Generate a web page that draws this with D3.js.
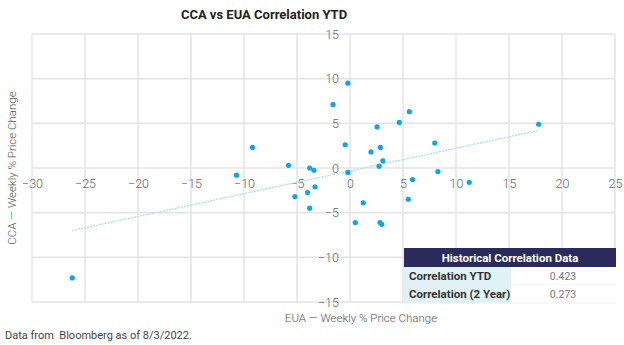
<!DOCTYPE html>
<html>
<head>
<meta charset="utf-8">
<script src="https://cdn.jsdelivr.net/npm/d3@7"></script>
<style>
  body { margin: 0; background: #fff; }
  svg text { font-family: Roboto, "DejaVu Sans", sans-serif; }
</style>
</head>
<body>
<div id="chart"></div>
<script>
/* DATA */
// EUA weekly % change (x) and CCA weekly % change (y)
const euaChange = [-26.2, -10.7, -9.2, -5.8, -5.2, -4.0, -3.8, -3.8, -3.4, -3.3,
  -1.6, -0.45, -0.2, -0.2, 0.5, 1.25, 1.98, 2.55, 2.74, 2.83, 2.86, 3.0, 3.1,
  4.65, 5.5, 5.6, 5.9, 8.0, 8.3, 11.25, 17.8];
const ccaChange = [-12.3, -0.8, 2.3, 0.3, -3.2, -2.75, 0.0, -4.5, -0.25, -2.1,
  7.1, 2.6, 9.5, -0.5, -6.1, -3.9, 1.8, 4.6, 0.2, -6.1, 2.3, -6.3, 0.8,
  5.1, -3.5, 6.3, -1.3, 2.8, -0.4, -1.6, 4.9];
// trend line ends
const trendX = [-26.2, 17.8];
const trendY = [-7.0, 4.2];

const xTicks = [-30, -25, -20, -15, -10, -5, 0, 5, 10, 15, 20, 25];
const yTicks = [-15, -10, -5, 0, 5, 10, 15];

const tableTitle = "Historical Correlation Data";
const tableLabels = ["Correlation YTD", "Correlation (2 Year)"];
const tableValues = ["0.423", "0.273"];

/* LAYOUT */
const width = 624, height = 345,
  margin = { top: 34, bottom: 43, left: 32, right: 9 };

const points = euaChange.map((d, i) => ({ x: d, y: ccaChange[i] }));

const xScale = d3.scaleLinear()
  .domain([-30, 25])
  .range([margin.left, width - margin.right]);

const yScale = d3.scaleLinear()
  .domain([-15, 15])
  .range([height - margin.bottom, margin.top]);

const svg = d3.select("#chart")
  .append("svg")
  .attr("width", width)
  .attr("height", height);

// gridlines
svg.append("g")
  .selectAll("line.vx")
  .data(xTicks)
  .join("line")
  .attr("x1", d => xScale(d)).attr("x2", d => xScale(d))
  .attr("y1", yScale(15)).attr("y2", yScale(-15))
  .attr("stroke", "#e4e4e4")
  .attr("stroke-width", 1.5);

svg.append("g")
  .selectAll("line.hy")
  .data(yTicks)
  .join("line")
  .attr("x1", xScale(-30)).attr("x2", xScale(25))
  .attr("y1", d => yScale(d)).attr("y2", d => yScale(d))
  .attr("stroke", "#e4e4e4")
  .attr("stroke-width", 1.5);

// axes crossing at zero
const xAxis = d3.axisBottom(xScale).tickValues(xTicks).tickSize(0).tickPadding(11);
const yAxis = d3.axisLeft(yScale).tickValues(yTicks).tickSize(0).tickPadding(11);

svg.append("g")
  .attr("transform", `translate(0,${yScale(0)})`)
  .call(xAxis)
  .call(g => g.select(".domain").remove())
  .selectAll("text")
  .attr("fill", "#666")
  .style("font-size", "12.5px")
  .style("font-weight", 300);

svg.append("g")
  .attr("transform", `translate(${xScale(0)},0)`)
  .call(yAxis)
  .call(g => g.select(".domain").remove())
  .selectAll("text")
  .attr("fill", "#666")
  .style("font-size", "12.5px")
  .style("font-weight", 300);

// trend line
svg.append("line")
  .attr("x1", xScale(trendX[0])).attr("y1", yScale(trendY[0]))
  .attr("x2", xScale(trendX[1])).attr("y2", yScale(trendY[1]))
  .attr("stroke", "#a9dcf4")
  .attr("stroke-width", 1.2)
  .attr("stroke-dasharray", "2,1");

// points
svg.selectAll("circle")
  .data(points)
  .join("circle")
  .attr("cx", d => xScale(d.x))
  .attr("cy", d => yScale(d.y))
  .attr("r", 2.6)
  .attr("fill", "#0ea5ea");

// title and axis titles
svg.append("text")
  .attr("x", 264).attr("y", 19)
  .attr("text-anchor", "middle")
  .style("font-size", "13px")
  .style("font-weight", "bold")
  .attr("fill", "#222")
  .text("CCA vs EUA Correlation YTD");

svg.append("text")
  .attr("transform", `translate(16,${(yScale(15) + yScale(-15)) / 2}) rotate(-90)`)
  .attr("text-anchor", "middle")
  .style("font-size", "11.5px")
  .style("font-weight", 300)
  .attr("fill", "#555")
  .text("CCA — Weekly % Price Change");

svg.append("text")
  .attr("x", 361).attr("y", 322)
  .attr("text-anchor", "middle")
  .style("font-size", "11.5px")
  .style("font-weight", 300)
  .attr("fill", "#555")
  .text("EUA — Weekly % Price Change");

svg.append("text")
  .attr("x", 5).attr("y", 339)
  .style("font-size", "11px")
  .style("white-space", "pre")
  .attr("fill", "#444")
  .text("Data from  Bloomberg as of 8/3/2022.");

// correlation table
const tx = 404, tw = 212, col1 = 107, hh = 19, rh = 18, ty = 248;
const table = svg.append("g");

table.append("rect")
  .attr("x", tx).attr("y", ty).attr("width", tw).attr("height", hh)
  .attr("fill", "#2b2a5c");
table.append("text")
  .attr("x", tx + tw / 2).attr("y", ty + 13.5)
  .attr("text-anchor", "middle")
  .style("font-size", "11.5px").style("font-weight", "bold")
  .attr("fill", "#fff")
  .text(tableTitle);

tableLabels.forEach((lab, i) => {
  const y0 = ty + hh + i * rh;
  table.append("rect")
    .attr("x", tx).attr("y", y0).attr("width", col1).attr("height", rh)
    .attr("fill", "#dff2f6");
  table.append("rect")
    .attr("x", tx + col1).attr("y", y0).attr("width", tw - col1).attr("height", rh)
    .attr("fill", "#fff");
  table.append("line")
    .attr("x1", tx).attr("x2", tx + tw)
    .attr("y1", y0 + rh).attr("y2", y0 + rh)
    .attr("stroke", "#eee");
  table.append("text")
    .attr("x", tx + 5).attr("y", y0 + 13)
    .style("font-size", "11.5px").style("font-weight", "bold")
    .attr("fill", "#333")
    .text(lab);
  table.append("text")
    .attr("x", tx + 159).attr("y", y0 + 13)
    .attr("text-anchor", "middle")
    .style("font-size", "10.5px")
    .attr("fill", "#777")
    .text(tableValues[i]);
});
</script>
</body>
</html>
